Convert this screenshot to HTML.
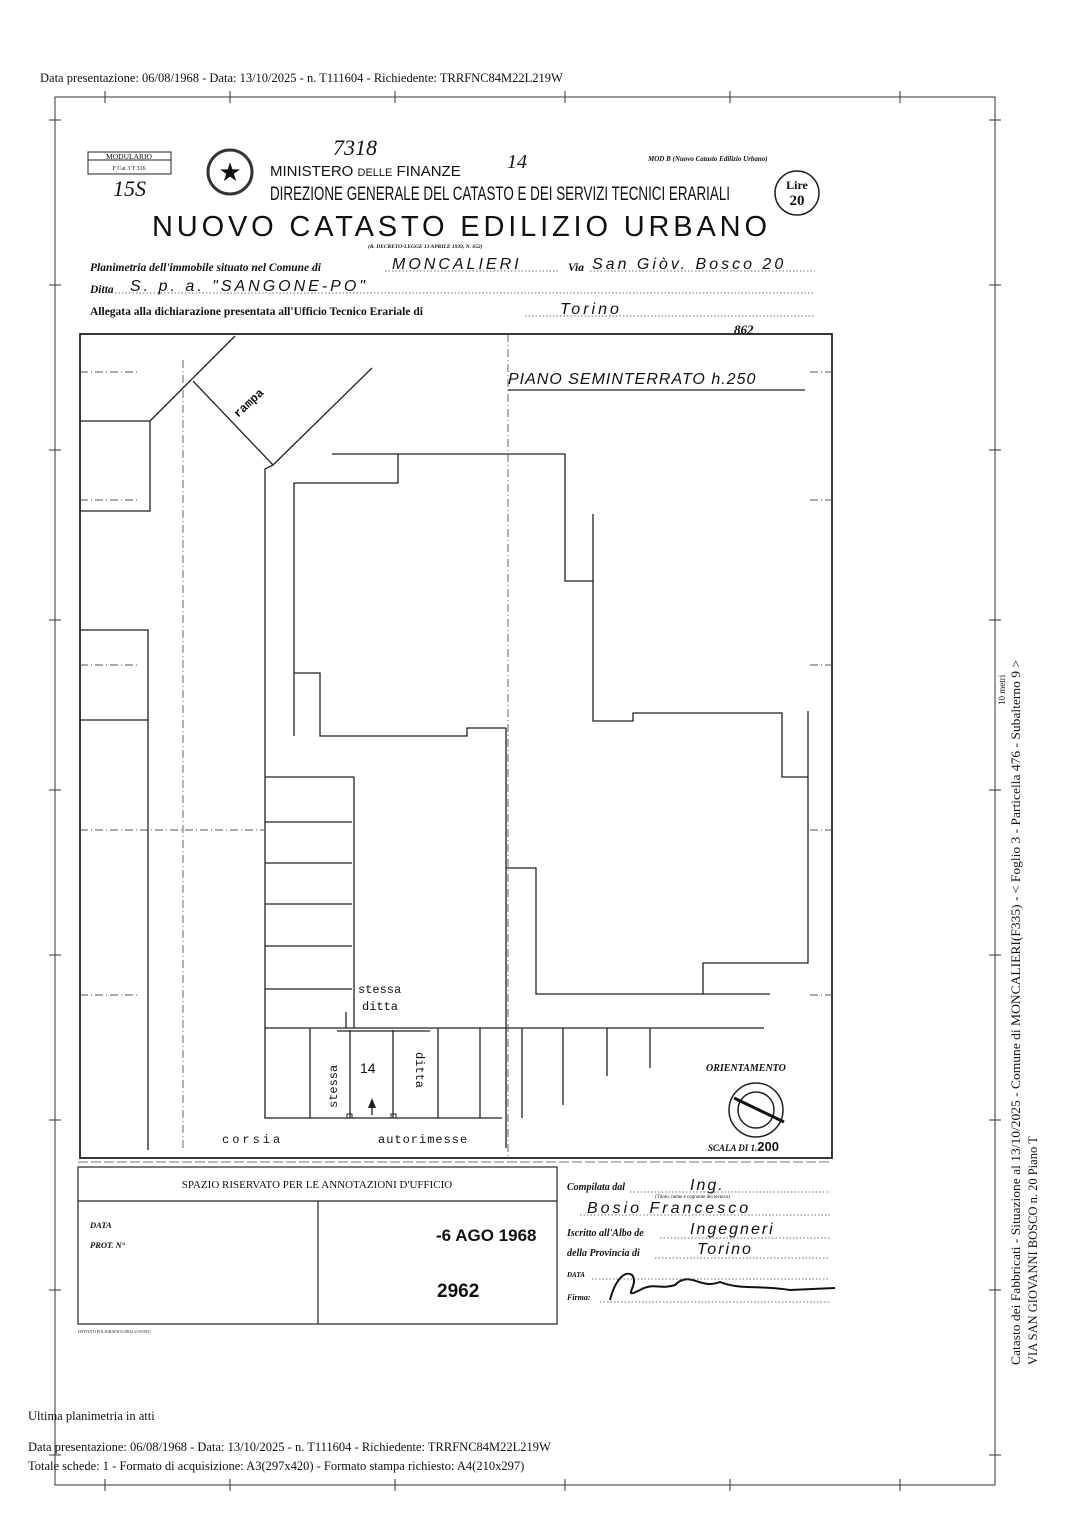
<!DOCTYPE html>
<html><head><meta charset="utf-8"><style>
html,body{margin:0;padding:0;background:#fff;}
svg{display:block;}
text{font-family:"Liberation Serif",serif;fill:#111;}
.s{font-family:"Liberation Sans",sans-serif;}
.m{font-family:"Liberation Mono",monospace;}
</style></head><body>
<svg width="1086" height="1536" viewBox="0 0 1086 1536" xmlns="http://www.w3.org/2000/svg">
<rect width="1086" height="1536" fill="#fff"/>
<text x="40" y="82" font-size="12.5">Data presentazione: 06/08/1968 - Data: 13/10/2025 - n. T111604 - Richiedente: TRRFNC84M22L219W</text>
<g stroke="#333" stroke-width="1" fill="none">
<path d="M55 97 H995 V1485 H55 Z"/>
<path d="M105 91v12 M230 91v12 M395 91v12 M565 91v12 M730 91v12 M900 91v12 M105 1479v12 M230 1479v12 M395 1479v12 M565 1479v12 M730 1479v12 M900 1479v12"/>
<path d="M49 120h12 M49 285h12 M49 450h12 M49 620h12 M49 790h12 M49 955h12 M49 1120h12 M49 1290h12 M49 1455h12 M989 120h12 M989 285h12 M989 450h12 M989 620h12 M989 790h12 M989 955h12 M989 1120h12 M989 1290h12 M989 1455h12"/>
</g>
<rect x="88" y="152" width="83" height="22" fill="none" stroke="#222"/>
<line x1="88" y1="160" x2="171" y2="160" stroke="#222"/>
<text x="129" y="159" font-size="7.5" text-anchor="middle">MODULARIO</text>
<text x="129" y="170" font-size="6" text-anchor="middle">F  Cat 3 T  316</text>
<text x="113" y="196" font-size="22" font-style="italic">15S</text>
<circle cx="230" cy="172" r="22" fill="none" stroke="#333" stroke-width="3"/>
<text x="230" y="181" font-size="26" text-anchor="middle">★</text>
<text x="333" y="155" font-size="22" font-style="italic">7318</text>
<text x="507" y="168" font-size="20" font-style="italic">14</text>
<text x="270" y="176" font-size="15" class="s">MINISTERO <tspan font-size="11">DELLE</tspan> FINANZE</text>
<text x="270" y="200" font-size="19" class="s" textLength="460" lengthAdjust="spacingAndGlyphs">DIREZIONE GENERALE DEL CATASTO E DEI SERVIZI TECNICI ERARIALI</text>
<text x="648" y="161" font-size="7" font-weight="bold" font-style="italic">MOD  B (Nuovo Catasto Edilizio Urbano)</text>
<circle cx="797" cy="193" r="22" fill="none" stroke="#222" stroke-width="1.5"/>
<text x="797" y="189" font-size="12" text-anchor="middle" font-weight="bold">Lire</text>
<text x="797" y="205" font-size="15" text-anchor="middle" font-weight="bold">20</text>
<text x="152" y="236" font-size="29" class="s" textLength="615" lengthAdjust="spacing">NUOVO CATASTO EDILIZIO URBANO</text>
<text x="368" y="248" font-size="5.5" font-style="italic" font-weight="bold">(R. DECRETO-LEGGE 13 APRILE 1939, N. 652)</text>
<text x="90" y="271" font-size="11.5" font-style="italic" font-weight="bold">Planimetria dell'immobile situato nel Comune di</text>
<text x="392" y="269" font-size="16" class="s" font-style="italic" letter-spacing="3">MONCALIERI</text>
<text x="568" y="271" font-size="11.5" font-style="italic" font-weight="bold">Via</text>
<text x="592" y="269" font-size="16" class="s" font-style="italic" letter-spacing="3">San  Giòv.  Bosco  20</text>
<text x="90" y="293" font-size="11.5" font-style="italic" font-weight="bold">Ditta</text>
<text x="130" y="291" font-size="16" class="s" font-style="italic" letter-spacing="3">S. p. a.  "SANGONE-PO"</text>
<text x="90" y="315" font-size="11.5" font-weight="bold">Allegata alla dichiarazione presentata all'Ufficio Tecnico Erariale di</text>
<text x="560" y="314" font-size="16" class="s" font-style="italic" letter-spacing="3">Torino</text>
<text x="734" y="334" font-size="13" font-style="italic" font-weight="bold">862</text>
<g stroke="#444" stroke-width="0.8" stroke-dasharray="1.5,2">
<line x1="385" y1="271" x2="560" y2="271"/><line x1="590" y1="271" x2="815" y2="271"/>
<line x1="115" y1="293" x2="815" y2="293"/><line x1="525" y1="316" x2="815" y2="316"/>
</g>
<g stroke="#222" stroke-width="1.3" fill="none">
<rect x="80" y="334" width="752" height="824" stroke-width="1.8"/>
<path d="M80 421H150V511H80"/>
<path d="M150 421L235 336"/>
<path d="M193 381L273 465"/>
<path d="M273 465L372 368"/>
<path d="M273 465L265 469V1118H502"/>
<path d="M80 630H148V1150 M80 720H148"/>
<path d="M332 454H565V581H593V514 M398 454V483H294V736 M294 673H320V736H467V728H506"/>
<path d="M593 581V721H633V713H782V777H808V711 M808 711V963H703V994H536V868H506 M770 994H703"/>
<path d="M506 728V1148"/>
<path d="M354 777V1028 M265 777H354 M265 822H352 M265 863H352 M265 904H352 M265 946H352 M265 989H352"/>
<path d="M265 1028H764 M346 1028V1012"/>
<path d="M310 1028V1118 M350 1030V1118 M393 1030V1118 M438 1028V1118 M480 1028V1118 M522 1028V1118 M563 1028V1105 M607 1028V1076 M650 1028V1068"/>
<path d="M337 1031H430"/>
<path d="M372 1115V1100"/>
</g>
<path d="M372 1098l-4 10h8z" fill="#222"/>
<rect x="347" y="1114" width="5" height="4" fill="none" stroke="#222"/>
<rect x="391" y="1114" width="5" height="4" fill="none" stroke="#222"/>
<g stroke="#555" stroke-width="0.9" stroke-dasharray="8,3,1,3" fill="none">
<line x1="508" y1="334" x2="508" y2="1158"/>
<line x1="183" y1="360" x2="183" y2="1150"/>
<line x1="80" y1="372" x2="140" y2="372"/>
<line x1="80" y1="500" x2="140" y2="500"/>
<line x1="80" y1="665" x2="140" y2="665"/>
<line x1="80" y1="830" x2="265" y2="830"/>
<line x1="80" y1="995" x2="140" y2="995"/>
<line x1="810" y1="372" x2="832" y2="372"/><line x1="810" y1="500" x2="832" y2="500"/><line x1="810" y1="665" x2="832" y2="665"/><line x1="810" y1="830" x2="832" y2="830"/><line x1="810" y1="995" x2="832" y2="995"/>
</g>
<text x="508" y="384" font-size="16" class="s" font-style="italic" letter-spacing="1">PIANO SEMINTERRATO  h.250</text>
<line x1="508" y1="390" x2="805" y2="390" stroke="#222" stroke-width="1.2"/>
<text x="0" y="0" font-size="12" class="m" font-weight="bold" transform="translate(238,418) rotate(-43)">rampa</text>
<text x="358" y="993" font-size="12" class="m">stessa</text>
<text x="362" y="1010" font-size="12" class="m">ditta</text>
<text x="360" y="1073" font-size="14" class="s">14</text>
<text font-size="12" class="m" transform="translate(337,1108) rotate(-90)">stessa</text>
<text font-size="12" class="m" transform="translate(416,1052) rotate(90)">ditta</text>
<text x="222" y="1143" font-size="12" class="m" letter-spacing="3">corsia</text>
<text x="378" y="1143" font-size="12" class="m" letter-spacing="1">autorimesse</text>
<text x="706" y="1071" font-size="10" font-style="italic" font-weight="bold">ORIENTAMENTO</text>
<circle cx="756" cy="1110" r="27" fill="none" stroke="#222" stroke-width="1.5"/>
<circle cx="756" cy="1110" r="18" fill="none" stroke="#222" stroke-width="1.5"/>
<line x1="734" y1="1098" x2="784" y2="1122" stroke="#111" stroke-width="3"/>
<text x="708" y="1151" font-size="9" font-style="italic" font-weight="bold">SCALA DI 1.<tspan font-size="13" class="s" font-style="normal">200</tspan></text>
<g stroke="#222" stroke-width="1.2" fill="none">
<rect x="78" y="1167" width="479" height="157"/>
<line x1="78" y1="1201" x2="557" y2="1201"/>
<line x1="318" y1="1201" x2="318" y2="1324"/>
</g>
<line x1="78" y1="1162" x2="830" y2="1162" stroke="#777" stroke-dasharray="10,3"/>
<text x="317" y="1188" font-size="11" text-anchor="middle">SPAZIO RISERVATO PER LE ANNOTAZIONI D'UFFICIO</text>
<text x="90" y="1228" font-size="8.5" font-style="italic" font-weight="bold">DATA</text>
<text x="90" y="1248" font-size="8.5" font-style="italic" font-weight="bold">PROT. N°</text>
<text x="436" y="1241" font-size="17" class="s" font-weight="bold">-6 AGO 1968</text>
<text x="437" y="1297" font-size="19" class="s" font-weight="bold">2962</text>
<text x="78" y="1333" font-size="4">ISTITUTO POLIGRAFICO DELLO STATO</text>
<text x="567" y="1190" font-size="10" font-style="italic" font-weight="bold">Compilata dal</text>
<text x="690" y="1190" font-size="16" class="s" font-style="italic" letter-spacing="2">Ing.</text>
<text x="655" y="1198" font-size="5">(Titolo, nome e cognome del tecnico)</text>
<text x="587" y="1213" font-size="16" class="s" font-style="italic" letter-spacing="3">Bosio    Francesco</text>
<text x="567" y="1236" font-size="10" font-style="italic" font-weight="bold">Iscritto all'Albo de</text>
<text x="690" y="1234" font-size="16" class="s" font-style="italic" letter-spacing="2">Ingegneri</text>
<text x="567" y="1256" font-size="10" font-style="italic" font-weight="bold">della Provincia di</text>
<text x="697" y="1254" font-size="16" class="s" font-style="italic" letter-spacing="2">Torino</text>
<text x="567" y="1277" font-size="7" font-style="italic" font-weight="bold">DATA</text>
<text x="567" y="1300" font-size="8" font-style="italic" font-weight="bold">Firma:</text>
<path d="M610 1300 C615 1280 625 1270 632 1275 C640 1285 620 1300 640 1290 C655 1282 660 1290 675 1285 C690 1270 700 1290 720 1282 C740 1290 760 1285 790 1290 L835 1288" fill="none" stroke="#111" stroke-width="2"/>
<g stroke="#444" stroke-width="0.8" stroke-dasharray="1.5,2">
<line x1="630" y1="1192" x2="830" y2="1192"/><line x1="580" y1="1215" x2="830" y2="1215"/>
<line x1="660" y1="1238" x2="830" y2="1238"/><line x1="655" y1="1258" x2="830" y2="1258"/>
<line x1="592" y1="1279" x2="830" y2="1279"/><line x1="600" y1="1302" x2="830" y2="1302"/>
</g>
<text x="28" y="1420" font-size="12.5">Ultima planimetria in atti</text>
<text x="28" y="1451" font-size="12.5">Data presentazione: 06/08/1968 - Data: 13/10/2025 - n. T111604 - Richiedente: TRRFNC84M22L219W</text>
<text x="28" y="1470" font-size="12.5">Totale schede: 1 - Formato di acquisizione: A3(297x420)  - Formato stampa richiesto: A4(210x297)</text>
<text font-size="12.5" transform="translate(1020,1365) rotate(-90)" textLength="705" lengthAdjust="spacingAndGlyphs">Catasto dei Fabbricati - Situazione al 13/10/2025 - Comune di MONCALIERI(F335) - &lt; Foglio 3 - Particella 476 - Subalterno 9 &gt;</text>
<text font-size="12.5" transform="translate(1037,1365) rotate(-90)">VIA SAN GIOVANNI BOSCO n. 20 Piano T</text>
<text font-size="9" transform="translate(1005,705) rotate(-90)">10 metri</text>
</svg>
</body></html>
